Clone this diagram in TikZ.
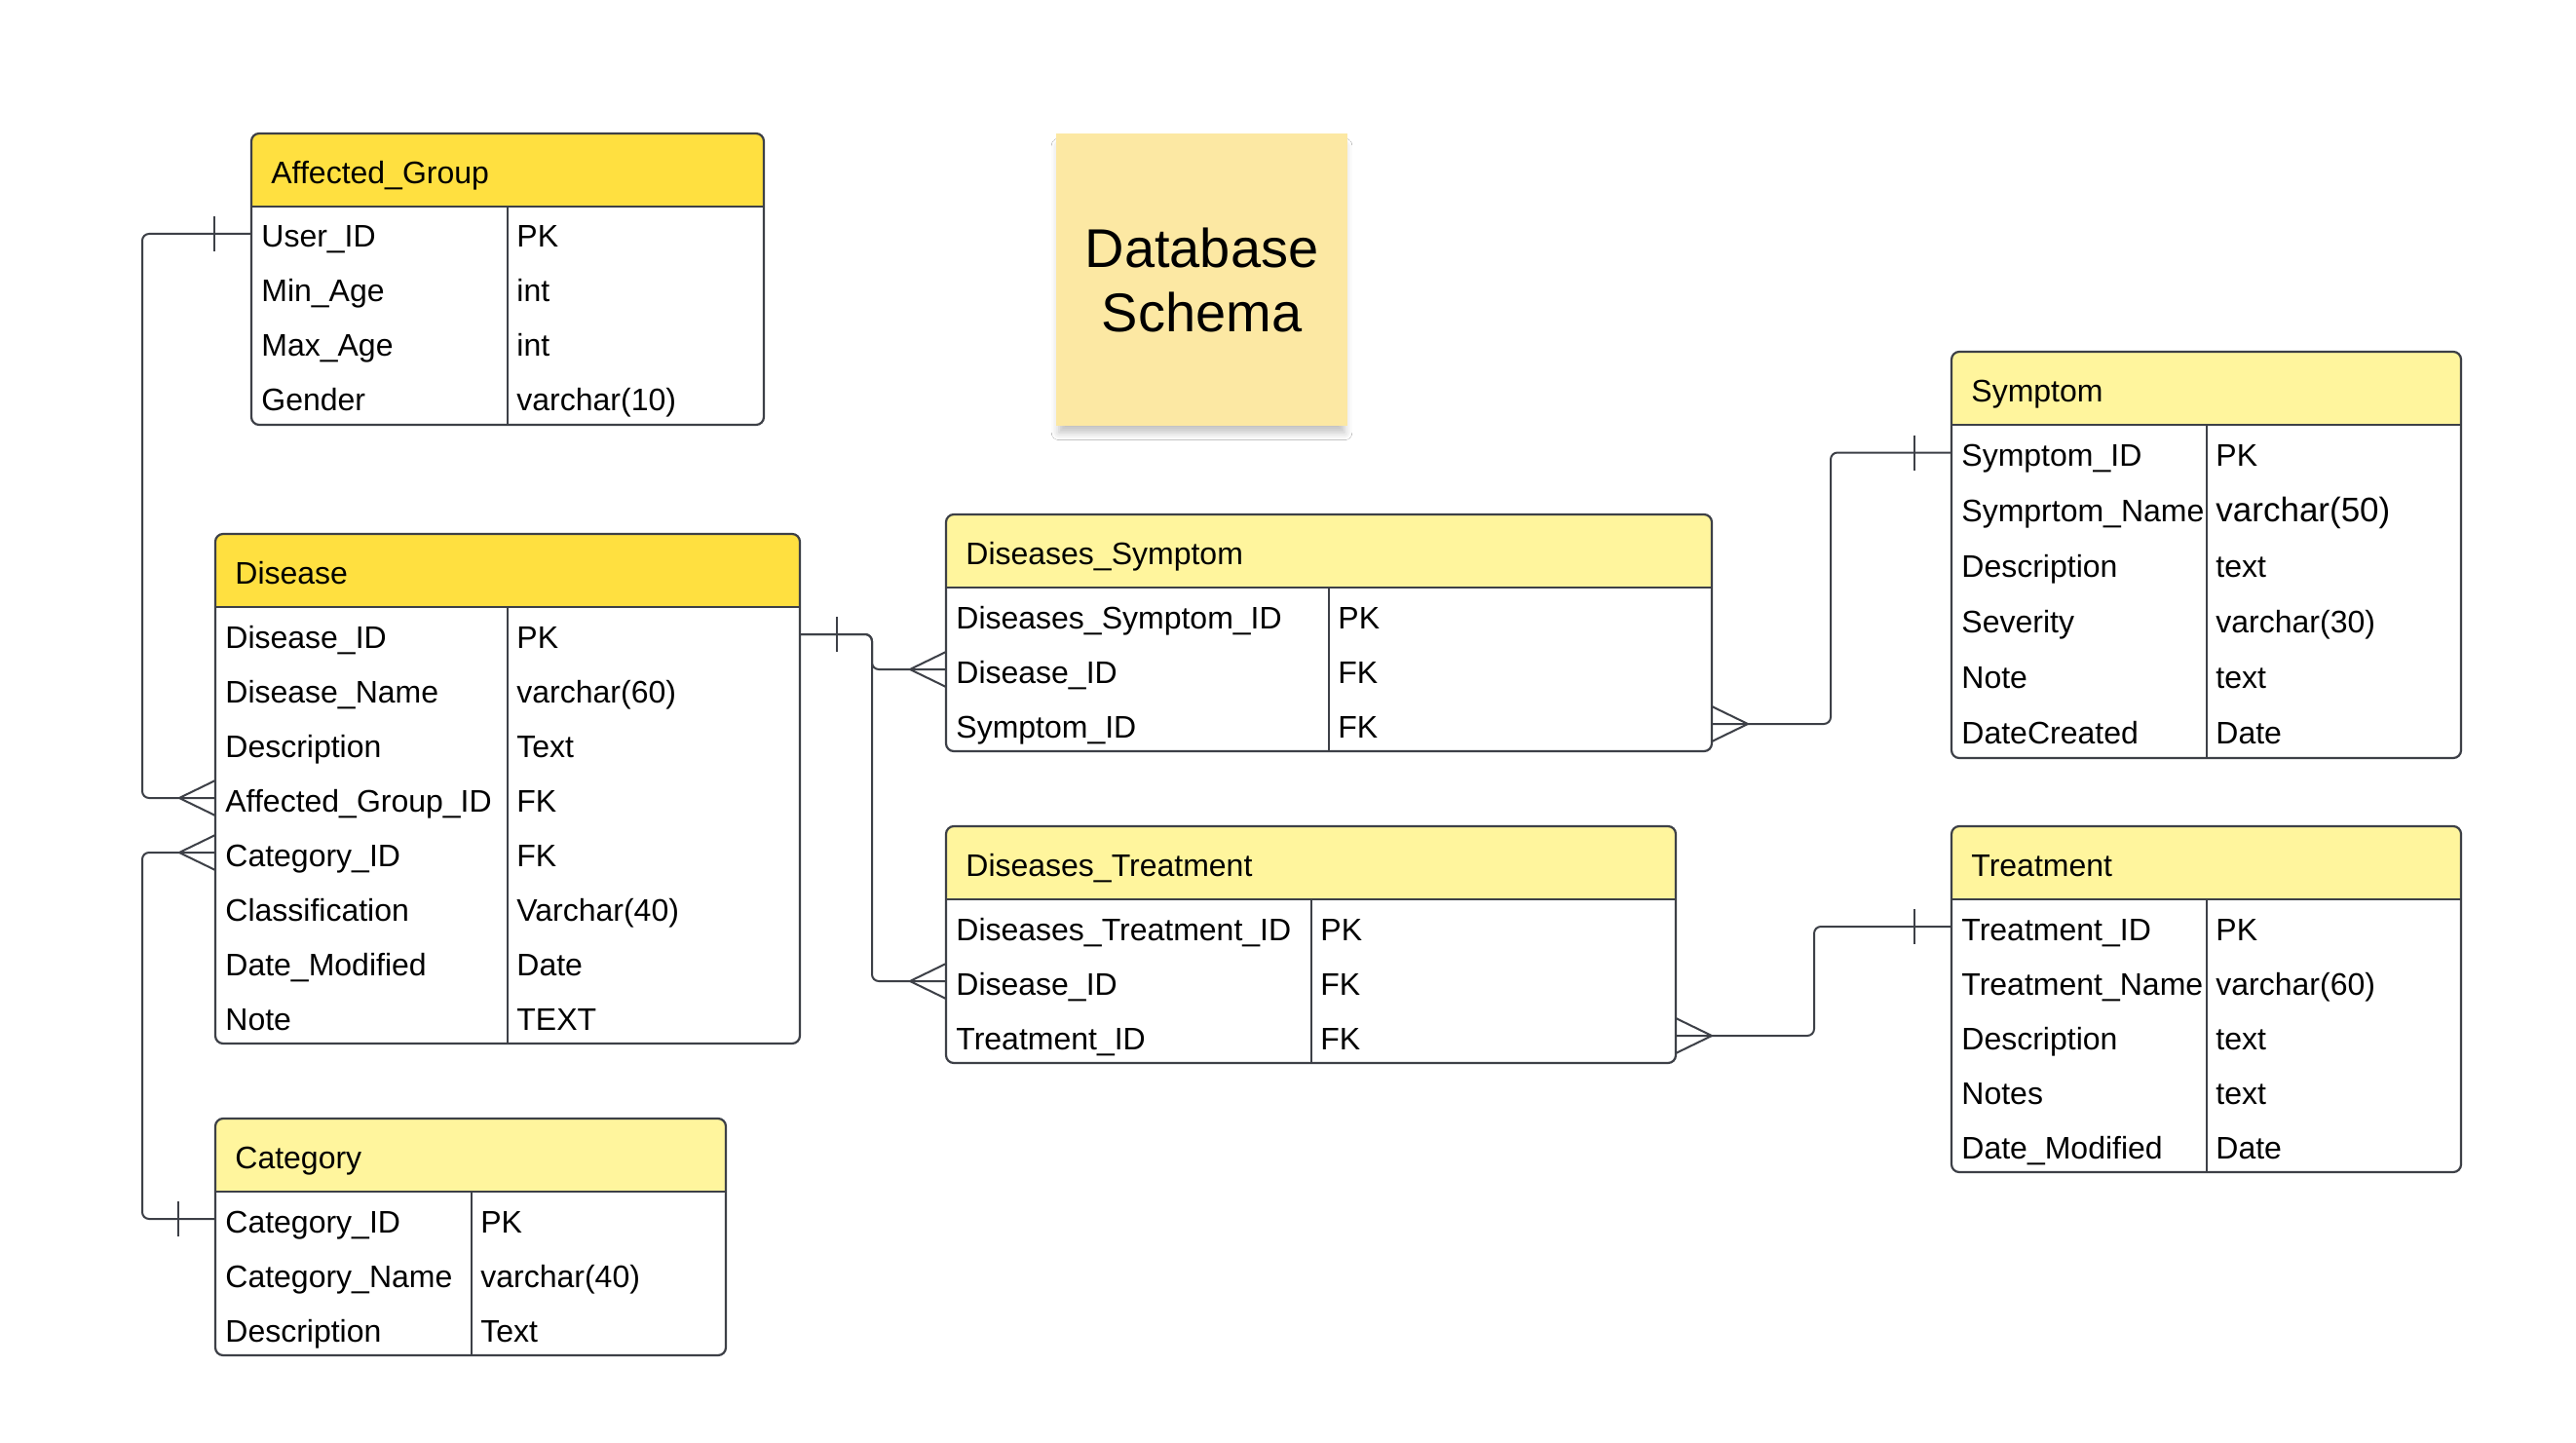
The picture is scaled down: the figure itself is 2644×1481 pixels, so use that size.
\documentclass[tikz,border=0pt]{standalone}
\usepackage{fontspec}
\setmainfont{Liberation Sans}
\usetikzlibrary{calc,shadows.blur}
\definecolor{linec}{HTML}{3D4047}
\definecolor{hdark}{HTML}{FFE040}
\definecolor{hlight}{HTML}{FFF59D}
\definecolor{notec}{HTML}{FCE8A3}
\newcommand{\cellfont}{\fontsize{16}{19}\selectfont}
\newcommand{\bigtype}{\fontsize{17.5}{20}\selectfont}
\def\rowh{56}
% #1 name, #2 left, #3 top, #4 width, #5 divider offset, #6 header colour, #7 title, #8 rows count, #9 rows
\newcommand{\ertable}[9]{%
  \pgfmathsetmacro{\tbx}{#2}%
  \pgfmathsetmacro{\tby}{#3}%
  \pgfmathsetmacro{\tbr}{#2+#4}%
  \pgfmathsetmacro{\tbh}{#3+75}%
  \pgfmathsetmacro{\tbb}{#3+75+\rowh*#8}%
  \pgfmathsetmacro{\tbd}{#2+#5}%
  \fill[white, rounded corners=4pt] (\tbx,\tby) rectangle (\tbr,\tbb);
  \fill[#6] (\tbx,\tbh) {[rounded corners=4pt] -- (\tbx,\tby) -- (\tbr,\tby)} -- (\tbr,\tbh) -- cycle;
  \draw[tabline] (\tbx,\tbh) -- (\tbr,\tbh);
  \draw[tabline] (\tbd,\tbh) -- (\tbd,\tbb);
  \draw[tabline, rounded corners=4pt] (\tbx,\tby) rectangle (\tbr,\tbb);
  \node[celltext] (#1-title) at (\tbx+20,\tby+37.5+14) {#7};
  \foreach \fn/\ft [count=\i] in {#9} {
    \pgfmathsetmacro{\yc}{\tbh+\rowh*\i-\rowh/2}
    \node[celltext] (#1-n\i) at (\tbx+10,\yc+14) {\fn};
    \node[celltext] (#1-t\i) at (\tbd+9,\yc+14) {\ft};
    \coordinate (#1-L\i) at (\tbx,\yc);
    \coordinate (#1-R\i) at (\tbr,\yc);
  }
}
\newcommand{\crowL}[1]{\draw[link, rounded corners=0pt] ($(#1)+(0,-18)$) -- ($(#1)+(-37,0)$) -- ($(#1)+(0,18)$);}
\newcommand{\crowR}[1]{\draw[link, rounded corners=0pt] ($(#1)+(0,-18)$) -- ($(#1)+(37,0)$) -- ($(#1)+(0,18)$);}
\newcommand{\tickL}[1]{\draw[link, rounded corners=0pt] ($(#1)+(-38,-18)$) -- ($(#1)+(-38,18)$);}
\newcommand{\tickR}[1]{\draw[link, rounded corners=0pt] ($(#1)+(38,-18)$) -- ($(#1)+(38,18)$);}
\begin{document}
\begin{tikzpicture}[x=0.5pt,y=-0.5pt,
  tabline/.style={draw=linec, line width=1.1pt},
  link/.style={draw=linec, line width=1pt, rounded corners=3.5pt},
  celltext/.style={inner sep=0pt, anchor=base west, font=\cellfont, text=black},
  notebox/.style={fill=notec, minimum width=149.5pt, minimum height=150pt, inner sep=0pt,
    align=center, font=\fontsize{28}{33}\selectfont,
    blur shadow={shadow xshift=0pt, shadow yshift=-5pt, shadow blur radius=4pt, shadow opacity=25, shadow scale=0.98}}]
\fill[white] (0,0) rectangle (2644,1481);
\useasboundingbox (0,0) rectangle (2644,1481);

% sticky note
\node[notebox] (note) at (1233.5,287) {Database\\Schema};

% tables
\ertable{AG}{258}{137}{526}{263}{hdark}{Affected\_Group}{4}{User\_ID/PK, Min\_Age/int, Max\_Age/int, Gender/varchar(10)}
\ertable{DI}{221}{548}{600}{300}{hdark}{Disease}{8}{Disease\_ID/PK, Disease\_Name/varchar(60), Description/Text, Affected\_Group\_ID/FK, Category\_ID/FK, Classification/Varchar(40), Date\_Modified/Date, Note/TEXT}
\ertable{CA}{221}{1148}{524}{263}{hlight}{Category}{3}{Category\_ID/PK, Category\_Name/varchar(40), Description/Text}
\ertable{DS}{971}{528}{786}{393}{hlight}{Diseases\_Symptom}{3}{Diseases\_Symptom\_ID/PK, Disease\_ID/FK, Symptom\_ID/FK}
\ertable{DT}{971}{848}{749}{375}{hlight}{Diseases\_Treatment}{3}{Diseases\_Treatment\_ID/PK, Disease\_ID/FK, Treatment\_ID/FK}
\def\rowh{57}
\ertable{SY}{2003}{361}{523}{262}{hlight}{Symptom}{6}{Symptom\_ID/PK, Symprtom\_Name/{\bigtype varchar(50)}, Description/text, Severity/varchar(30), Note/text, DateCreated/Date}
\def\rowh{56}
\ertable{TR}{2003}{848}{523}{262}{hlight}{Treatment}{5}{Treatment\_ID/PK, Treatment\_Name/varchar(60), Description/text, Notes/text, Date\_Modified/Date}

% connectors
\draw[link] (AG-L1) -- ++(-112,0) |- (DI-L4);
\tickL{AG-L1}
\crowL{DI-L4}

\draw[link] (CA-L1) -- ++(-75,0) |- (DI-L5);
\tickL{CA-L1}
\crowL{DI-L5}

\draw[link] (DI-R1) -- ++(74,0) |- (DS-L2);
\draw[link] (DI-R1) -- ++(74,0) |- (DT-L2);
\tickR{DI-R1}
\crowL{DS-L2}
\crowL{DT-L2}

\draw[link] (DS-R3) -- ++(122,0) |- (SY-L1);
\crowR{DS-R3}
\tickL{SY-L1}

\draw[link] (DT-R3) -- ++(142,0) |- (TR-L1);
\crowR{DT-R3}
\tickL{TR-L1}
\end{tikzpicture}
\end{document}
